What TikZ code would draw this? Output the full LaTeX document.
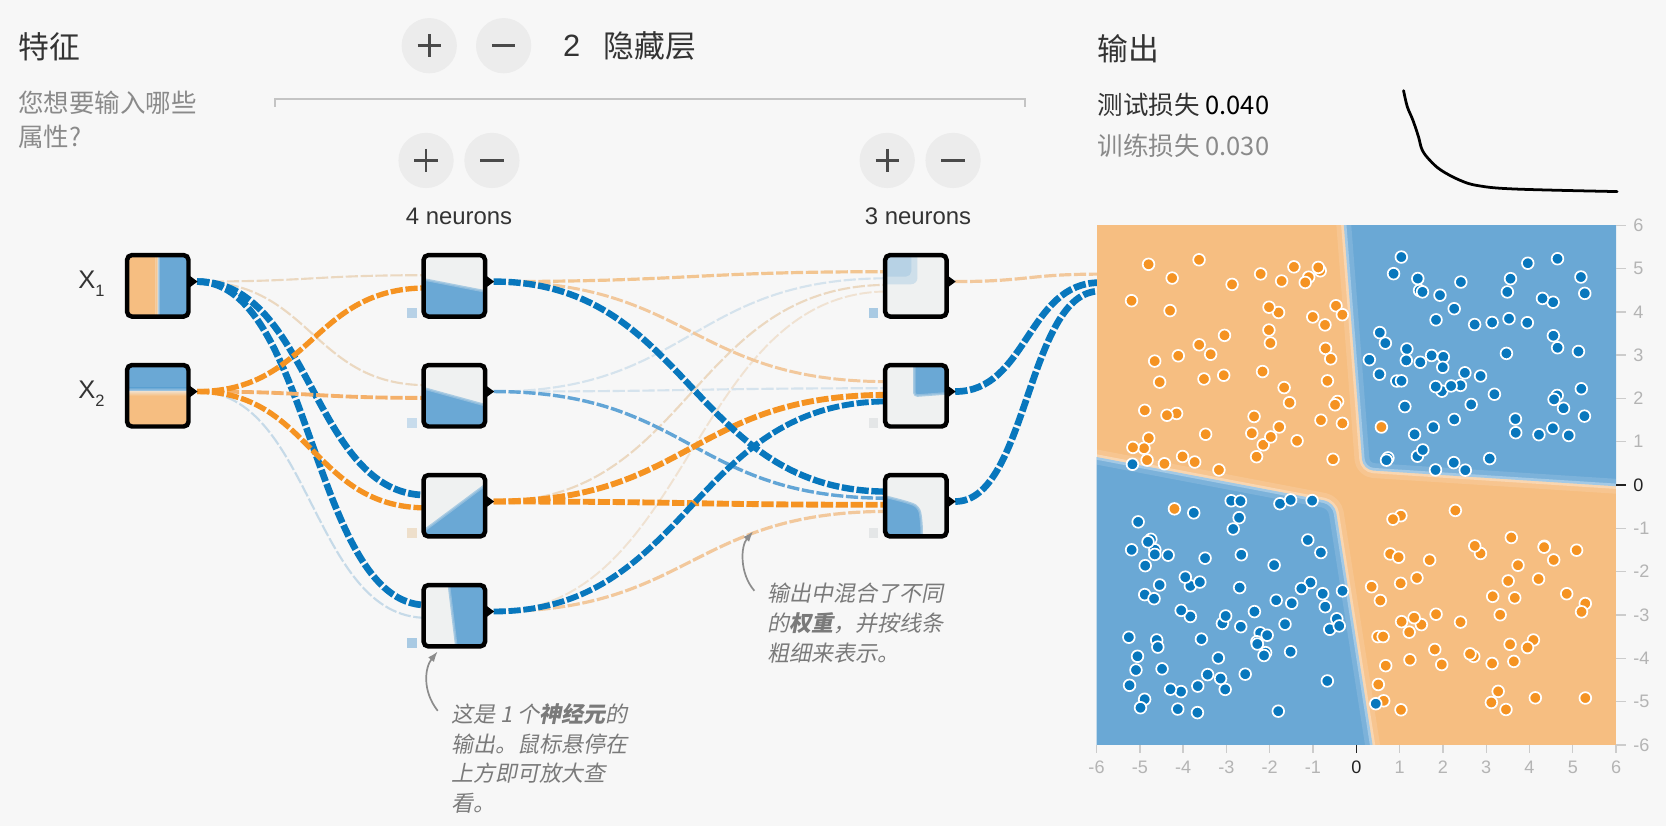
\documentclass[tikz,border=0pt]{standalone}
\usepackage{fontspec}
\setmainfont{Liberation Sans}
\newfontfamily\cjk{Noto Sans CJK SC}
\newfontfamily\cjki[FakeSlant=0.2,BoldFeatures={FakeSlant=0.2}]{Noto Sans CJK SC}
\usetikzlibrary{calc,arrows.meta}
\pgfdeclarelayer{back}
\pgfdeclarelayer{links}
\pgfsetlayers{back,links,main}
\definecolor{bg}{HTML}{F7F7F7}
\definecolor{btn}{HTML}{ECECEC}
\definecolor{ico}{HTML}{4A4A4A}
\definecolor{ink}{HTML}{333333}
\definecolor{sub}{HTML}{8A8A8A}
\definecolor{anno}{HTML}{7A7A7A}
\definecolor{arrc}{HTML}{8C8C8C}
\definecolor{brk}{HTML}{C4C4C4}
\definecolor{blu}{HTML}{6AA8D5}
\definecolor{orng}{HTML}{F6BE81}
\definecolor{neutral}{HTML}{EFF1F1}
\definecolor{dotb}{HTML}{0877BD}
\definecolor{doto}{HTML}{F59322}
\definecolor{axisc}{HTML}{B4B4B4}
\definecolor{tickc}{HTML}{CCCCCC}
\definecolor{axisz}{HTML}{222222}
\definecolor{cbeige}{HTML}{EBD8C0}
\definecolor{corM}{HTML}{F4B06A}
\definecolor{corL}{HTML}{F2C591}
\definecolor{corLL}{HTML}{F2C89C}
\definecolor{cblL}{HTML}{C6DAE8}
\definecolor{cblVL}{HTML}{D5E3ED}
\definecolor{cblM}{HTML}{62A5D6}
\definecolor{cbeigeL}{HTML}{F0E2D2}
\definecolor{bsa}{HTML}{B7D1E6}
\definecolor{bsb}{HTML}{C8DCEC}
\definecolor{bsc}{HTML}{EEDFCB}
\definecolor{bsd}{HTML}{A9CAE3}
\definecolor{bse}{HTML}{E4E6E7}
\newcommand\pp[1]{\begin{scope}[shift={(path picture bounding box.center)},x=28.9pt,y=-28.9pt,sharp corners]#1\end{scope}}
\newcommand\lnk[4][]{\draw[lk,#1] #2 to[out=0,in=180,distance=#4] #3;}
\newcommand\imXa{\pp{%
 \fill[orng] (-1.2,-1.2) rectangle (-0.08,1.2);
 \shade[left color=orng,right color=neutral!60!orng] (-0.081,-1.2) rectangle (0.001,1.2);
 \shade[left color=neutral!60!blu,right color=blu] (0,-1.2) rectangle (0.081,1.2);
 \fill[blu] (0.08,-1.2) rectangle (1.2,1.2);}}
\newcommand\imXb{\pp{%
 \fill[blu] (-1.2,-1.2) rectangle (1.2,-0.26);
 \shade[top color=blu,bottom color=neutral!60!blu] (-1.2,-0.261) rectangle (1.2,-0.14);
 \shade[top color=neutral!60!orng,bottom color=orng] (-1.2,-0.141) rectangle (1.2,0.0);
 \fill[orng] (-1.2,-0.001) rectangle (1.2,1.2);}}
\newcommand\imHa{\pp{\fill[blu] (-1.2,-0.25) -- (1.2,0.22) -- (1.2,1.2) -- (-1.2,1.2) -- cycle; \draw[soft] (-1.2,-0.25) -- (1.2,0.22);}}
\newcommand\imHb{\pp{\fill[blu] (-1.2,-0.3) -- (1.2,0.36) -- (1.2,1.2) -- (-1.2,1.2) -- cycle; \draw[soft] (-1.2,-0.3) -- (1.2,0.36);}}
\newcommand\imHc{\pp{\fill[blu] (-1.2,0.97) -- (1.2,-0.82) -- (1.2,1.2) -- (-1.2,1.2) -- cycle; \draw[soft] (-1.2,0.97) -- (1.2,-0.82);}}
\newcommand\imHd{\pp{\fill[blu] (-0.2,-1.2) -- (1.2,-1.2) -- (1.2,1.2) -- (0.09,1.2) -- cycle; \draw[soft] (-0.2,-1.2) -- (0.09,1.2);}}
\newcommand\imGa{\pp{\fill[blu!25!neutral, rounded corners=6pt] (-1.3,-1.3) rectangle (0.05,-0.05); \fill[blu!42!neutral, rounded corners=5pt] (-1.3,-1.3) rectangle (-0.15,-0.3);}}
\newcommand\imGb{\pp{\fill[blu, rounded corners=3pt] (-0.05,-1.3) -- (1.3,-1.3) -- (1.3,-0.1) -- (-0.05,0.0) -- cycle; \draw[soft, rounded corners=3pt] (-0.05,-1.3) -- (-0.05,0.0) -- (1.3,-0.1);}}
\newcommand\imGc{\pp{\fill[blu, rounded corners=6pt] (-1.3,-0.38) -- (-0.3,-0.12) -- (0.1,0.02) -- (0.18,0.5) -- (0.2,1.3) -- (-1.3,1.3) -- cycle; \draw[soft, rounded corners=6pt] (-1.3,-0.38) -- (-0.3,-0.12) -- (0.1,0.02) -- (0.18,0.5) -- (0.2,1.3);}}
\begin{document}
\begin{tikzpicture}[x=1pt,y=-1pt,
 lk/.style={line cap=butt, dash pattern=on 11.5pt off 2.5pt},
 nbox/.style={draw=black, line width=4.2pt, rounded corners=4.5pt, minimum size=57.8pt, inner sep=0pt, fill=neutral},
 btnc/.style={circle, fill=btn, minimum size=52pt, inner sep=0pt},
 icon/.style={draw=ico, line width=2.6pt},
 bias/.style={minimum size=9pt, inner sep=0pt},
 soft/.style={draw=blu!65!neutral, line width=2.4pt, line join=round, opacity=0.8},
 band/.style={draw=white, line join=round, rounded corners=10pt},
 dot/.style={draw=white, line width=1.6pt},
 head/.style={anchor=west, inner sep=0pt, text=ink, font=\cjk\fontsize{29}{35}\selectfont},
 subt/.style={anchor=west, inner sep=0pt, text=sub, font=\cjk\fontsize{24}{30}\selectfont},
 annt/.style={anchor=west, inner sep=0pt, text=anno, font=\cjki\fontsize{20.7}{25}\selectfont},
 neur/.style={inner sep=0pt, text=ink, font=\fontsize{22.5}{27}\selectfont},
 annarrow/.style={draw=arrc, line width=1.6pt, -{Latex[length=10pt,width=7pt]}}
]
\begin{pgfonlayer}{back}
 \fill[bg] (0,0) rectangle (1568,777);
\end{pgfonlayer}
\useasboundingbox (0,0) rectangle (1568,777);

% ---------- headers ----------
\node[head] (tfeat) at (17,44) {特征};
\node[subt] (tq1) at (17,97) {您想要输入哪些};
\node[subt] (tq2) at (17,129) {属性?};

\node[btnc] (bp0) at (404,43) {};
\node[btnc] (bm0) at (474,43) {};
\node[btnc] (bp1) at (401,151) {};
\node[btnc] (bm1) at (463,151) {};
\node[btnc] (bp2) at (835,151) {};
\node[btnc] (bm2) at (897,151) {};
\foreach \b in {bp0,bp1,bp2}{
 \draw[icon] ($(\b)+(-11,0)$) -- ($(\b)+(11,0)$) ($(\b)+(0,-11)$) -- ($(\b)+(0,11)$);
}
\foreach \b in {bm0,bm1,bm2}{
 \draw[icon] ($(\b)+(-11,0)$) -- ($(\b)+(11,0)$);
}
\node[inner sep=0pt, text=ink, font=\fontsize{29}{35}\selectfont] (nlay) at (538,43) {2};
\node[head] (thid) at (568,43) {隐藏层};
\draw[draw=brk, line width=1.8pt] (258.5,100.5) -- (258.5,93.3) -- (965,93.3) -- (965,100.5);
\node[neur] (n4t) at (432,204) {4 neurons};
\node[neur] (n3t) at (864,204) {3 neurons};

\node[head] (tout) at (1033,45.5) {输出};
\node[subt, text=ink] (tloss) at (1033,99) {测试损失 {\color{black}0.040}};
\node[subt, text=sub] (trloss) at (1033,137) {训练损失 0.030};
\draw[line width=2.6pt, line join=round, line cap=round] plot[smooth, tension=0.6] coordinates {(1321,85.3) (1324.5,100.4) (1329.7,112.9) (1335,128.6) (1338.5,141.1) (1345.5,150.6) (1356,160) (1373.5,169.4) (1391,174.7) (1426,177.9) (1522,180.3)};

% ---------- input labels ----------
\node[anchor=base west, inner sep=0pt, text=ink, font=\fontsize{24}{28}\selectfont] (lx1) at (73.5,271.4) {X\raisebox{-7.6pt}{\fontsize{15.5}{16}\selectfont 1}};
\node[anchor=base west, inner sep=0pt, text=ink, font=\fontsize{24}{28}\selectfont] (lx2) at (73.5,374.9) {X\raisebox{-7.6pt}{\fontsize{15.5}{16}\selectfont 2}};

% ---------- boxes ----------
\node[nbox, path picture={\imXa}] (x1) at (148.5,269) {};
\node[nbox, path picture={\imXb}] (x2) at (148.5,372.5) {};
\node[nbox, path picture={\imHa}] (h1a) at (427.6,269) {};
\node[nbox, path picture={\imHb}] (h1b) at (427.6,372.5) {};
\node[nbox, path picture={\imHc}] (h1c) at (427.6,476) {};
\node[nbox, path picture={\imHd}] (h1d) at (427.6,579.5) {};
\node[nbox, path picture={\imGa}] (h2a) at (862,269) {};
\node[nbox, path picture={\imGb}] (h2b) at (862,372.5) {};
\node[nbox, path picture={\imGc}] (h2c) at (862,476) {};
\foreach \nm in {x1,x2,h1a,h1b,h1c,h1d,h2a,h2b,h2c}{
 \fill ($(\nm.east)+(-3,-11)$) -- ($(\nm.east)+(6.5,-4)$) -- ($(\nm.east)+(-3,3)$) -- cycle;
 \coordinate (\nm-o) at ($(\nm.east)+(6,-4)$);
}
\node[bias, fill=bsa] (ba) at ($(h1a)+(-40,25.5)$) {};
\node[bias, fill=bsb] (bb) at ($(h1b)+(-40,25.5)$) {};
\node[bias, fill=bsc] (bc) at ($(h1c)+(-40,25.5)$) {};
\node[bias, fill=bsd] (bd) at ($(h1d)+(-40,25.5)$) {};
\node[bias, fill=bsd] (ga) at ($(h2a)+(-40,25.5)$) {};
\node[bias, fill=bse] (gb) at ($(h2b)+(-40,25.5)$) {};
\node[bias, fill=bse] (gc) at ($(h2c)+(-40,25.5)$) {};

\coordinate (outp) at (1035,266);

% ---------- links ----------
\begin{pgfonlayer}{links}
\lnk[draw=cbeige, line width=2pt]{(x1-o)}{($(h1a.west)+(5,-10)$)}{108pt}
\lnk[draw=cbeige, line width=2pt]{(x1-o)}{($(h1b.west)+(5,-10)$)}{108pt}
\lnk[draw=dotb, line width=6.3pt]{(x1-o)}{($(h1c.west)+(5,-10)$)}{108pt}
\lnk[draw=dotb, line width=6.3pt]{(x1-o)}{($(h1d.west)+(5,-10)$)}{108pt}
\lnk[draw=cblL, line width=2pt]{(x2-o)}{($(h1d.west)+(5,2)$)}{108pt}
\lnk[draw=corM, line width=3.6pt]{(x2-o)}{($(h1b.west)+(5,2)$)}{108pt}
\lnk[draw=doto, line width=5pt]{(x2-o)}{($(h1a.west)+(5,2)$)}{108pt}
\lnk[draw=doto, line width=5pt]{(x2-o)}{($(h1c.west)+(5,2)$)}{108pt}

\lnk[draw=cblVL, line width=2pt]{(h1b-o)}{($(h2a.west)+(5,-7.1)$)}{185.7pt}
\lnk[draw=cblVL, line width=2pt]{(h1b-o)}{($(h2b.west)+(5,-7.1)$)}{185.7pt}
\lnk[draw=cbeigeL, line width=1.8pt]{(h1d-o)}{($(h2a.west)+(5,5.3)$)}{185.7pt}
\lnk[draw=cbeige, line width=2pt]{(h1c-o)}{($(h2a.west)+(5,-0.9)$)}{185.7pt}
\lnk[draw=corL, line width=3pt]{(h1a-o)}{($(h2a.west)+(5,-13.3)$)}{185.7pt}
\lnk[draw=corLL, line width=2.8pt]{(h1a-o)}{($(h2b.west)+(5,-13.3)$)}{185.7pt}
\lnk[draw=corLL, line width=3pt]{(h1d-o)}{($(h2c.west)+(5,5.3)$)}{185.7pt}
\lnk[draw=cblM, line width=3.2pt]{(h1b-o)}{($(h2c.west)+(5,-7.1)$)}{185.7pt}
\lnk[draw=doto, line width=5.5pt]{(h1c-o)}{($(h2b.west)+(5,-0.9)$)}{185.7pt}
\lnk[draw=doto, line width=5.5pt]{(h1c-o)}{($(h2c.west)+(5,-0.9)$)}{185.7pt}
\lnk[draw=dotb, line width=6pt]{(h1a-o)}{($(h2c.west)+(5,-13.3)$)}{185.7pt}
\lnk[draw=dotb, line width=5.5pt]{(h1d-o)}{($(h2b.west)+(5,5.3)$)}{185.7pt}

\lnk[draw=corLL, line width=3pt]{(h2a-o)}{($(outp)+(0,-8)$)}{68pt}
\lnk[draw=dotb, line width=6.3pt]{(h2b-o)}{(outp)}{68pt}
\lnk[draw=dotb, line width=6.3pt]{(h2c-o)}{($(outp)+(0,8)$)}{68pt}
\end{pgfonlayer}

% ---------- output plot ----------
\begin{scope}[shift={(1276.5,456.5)},x=40.75pt,y=40.75pt]
 \begin{scope}
  \clip (-6,-6) rectangle (6,6);
  \fill[orng] (-6,-6) rectangle (6,6);
  \fill[blu, rounded corners=10pt] (-0.35,6.8) -- (6.8,6.8) -- (6.8,-0.08) -- (0.15,0.35) -- cycle;
  \fill[blu, rounded corners=10pt] (-6.8,0.8) -- (-0.5,-0.4) -- (0.5,-6.8) -- (-6.8,-6.8) -- cycle;
  \draw[band, line width=14pt, opacity=0.12] (-0.35,6.8) -- (0.15,0.35) -- (6.8,-0.08);
  \draw[band, line width=5pt, opacity=0.3] (-0.35,6.8) -- (0.15,0.35) -- (6.8,-0.08);
  \draw[band, line width=14pt, opacity=0.12] (-6.8,0.8) -- (-0.5,-0.4) -- (0.5,-6.8);
  \draw[band, line width=5pt, opacity=0.3] (-6.8,0.8) -- (-0.5,-0.4) -- (0.5,-6.8);
 \end{scope}
 \pgfmathsetseed{42}
 \foreach \i in {1,...,250}{
  \pgfmathsetmacro\xa{5*rand}
  \pgfmathsetmacro\ya{5*rand}
  \pgfmathsetmacro\xb{\xa>0 ? \xa+0.3 : \xa-0.3}
  \pgfmathsetmacro\yb{\ya>0 ? \ya+0.3 : \ya-0.3}
  \pgfmathtruncatemacro\lab{(\xb*\yb>0) ? 1 : 0}
  \ifnum\lab=1 \def\dc{dotb}\else\def\dc{doto}\fi
  \filldraw[dot, fill=\dc] (\xb,\yb) circle[radius=5.5pt];
 }
 \foreach \p in {(-5.17,0.48),(-1.02,-0.36),(0.45,-5.05)}{
  \filldraw[dot, fill=dotb] \p circle[radius=5.5pt];
 }
 \foreach \p in {(-4.2,-0.55),(0.58,1.34),(0.5,-3.5),(0.62,-3.5)}{
  \filldraw[dot, fill=doto] \p circle[radius=5.5pt];
 }
 \foreach \k in {-6,...,6}{
  \ifnum\k=0 \def\tc{axisz}\def\lc{axisz}\else\def\tc{tickc}\def\lc{axisc}\fi
  \draw[draw=\tc, line width=1.3pt] (6,\k) -- ++(9pt,0);
  \draw[draw=\tc, line width=1.3pt] (\k,-6) -- ++(0,-8pt);
  \node[anchor=west, inner sep=0pt, text=\lc, font=\fontsize{17}{20}\selectfont] (ry\k) at ($(6,\k)+(16pt,0)$) {\k};
  \node[inner sep=0pt, text=\lc, font=\fontsize{17}{20}\selectfont] (rx\k) at ($(\k,-6)+(0,-21pt)$) {\k};
 }
\end{scope}

% ---------- annotations ----------
\node[annt] (a1l1) at (425,672) {这是 1 个\textbf{神经元}的};
\node[annt] (a1l2) at (425,700) {输出。鼠标悬停在};
\node[annt] (a1l3) at (425,728) {上方即可放大查};
\node[annt] (a1l4) at (425,756) {看。};
\node[annt] (a2l1) at (722,558) {输出中混合了不同};
\node[annt] (a2l2) at (722,587) {的\textbf{权重}，并按线条};
\node[annt] (a2l3) at (722,615) {粗细来表示。};
\coordinate (a1s) at (412,669);
\coordinate (a1e) at (412,613);
\coordinate (a2s) at (710,556);
\coordinate (a2e) at (709,500);
\draw[annarrow] (a1s) .. controls ($(a1s)+(-15,-19)$) and ($(a1e)+(-12,15)$) .. (a1e);
\draw[annarrow] (a2s) .. controls ($(a2s)+(-14,-16)$) and ($(a2e)+(-12,14)$) .. (a2e);
\end{tikzpicture}
\end{document}
